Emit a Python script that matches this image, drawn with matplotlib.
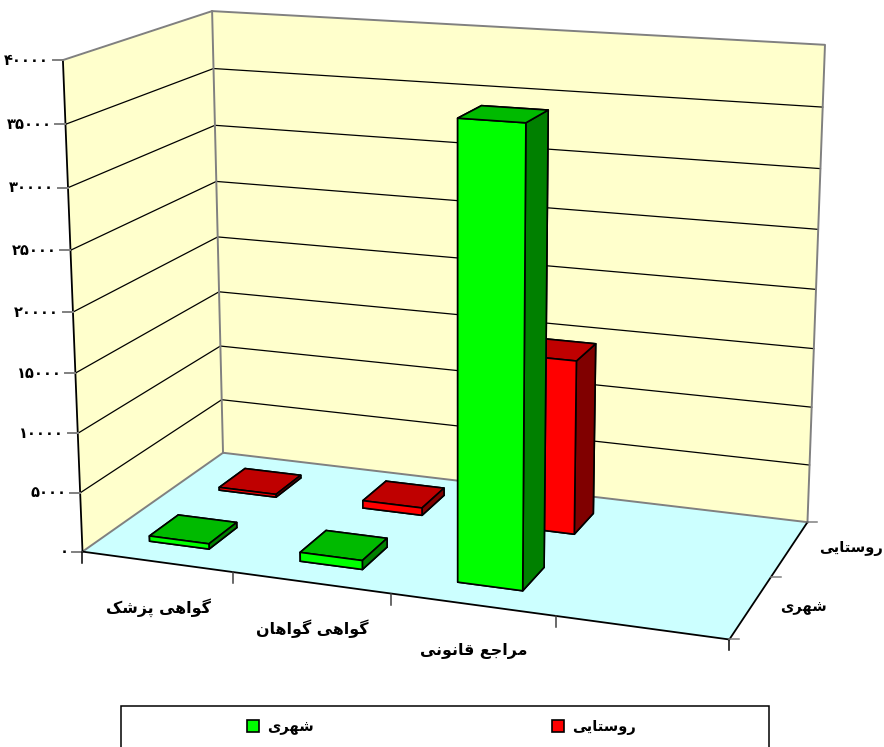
import numpy as np
import matplotlib
matplotlib.use('Agg')
import matplotlib.pyplot as plt
from matplotlib.patches import Patch, Rectangle
from mpl_toolkits.mplot3d.art3d import Poly3DCollection

# data
categories = ['گواهی پزشک', 'گواهی گواهان', 'مراجع قانونی', '']
series_names = ['شهری', 'روستایی']
urban = [450, 750, 36750]
rural = [250, 650, 14800]
z_ticks = [0, 5000, 10000, 15000, 20000, 25000, 30000, 35000, 40000]

W, H = 884, 747
ZMAX = 40000
n_x = len(categories)
n_y = len(series_names)

# matplotlib does no arabic shaping, so pick the joined glyphs here
FORMS = {
    'ش': 'ﺵﺶﺷﺸ', 'ه': 'ﻩﻪﻫﻬ', 'ی': 'ﯼﯽﯾﯿ', 'س': 'ﺱﺲﺳﺴ', 'ت': 'ﺕﺖﺗﺘ',
    'گ': 'ﮒﮓﮔﮕ', 'پ': 'ﭖﭗﭘﭙ', 'ک': 'ﮎﮏﮐﮑ', 'ن': 'ﻥﻦﻧﻨ', 'م': 'ﻡﻢﻣﻤ',
    'ج': 'ﺝﺞﺟﺠ', 'ع': 'ﻉﻊﻋﻌ', 'ق': 'ﻕﻖﻗﻘ',
    'ر': 'ﺭﺮ', 'و': 'ﻭﻮ', 'ا': 'ﺍﺎ', 'ز': 'ﺯﺰ',
}

def shape(s):
    out = []
    for i, c in enumerate(s):
        if c not in FORMS:
            out.append(c)
            continue
        forms = FORMS[c]
        before = i > 0 and s[i - 1] in FORMS and len(FORMS[s[i - 1]]) == 4
        after = i < len(s) - 1 and s[i + 1] in FORMS and len(forms) == 4
        out.append(forms[int(before) + 2 * int(after)])
    return ''.join(reversed(out))

def fa_digits(v):
    return str(v).translate(str.maketrans('0123456789', '۰۱۲۳۴۵۶۷۸۹'))

# camera matrix fitted from the corners of the plot box (pixel positions)
box_points = [
    (0, 0, 0, 83, 550), (0, n_y, 0, 223, 453), (n_x, n_y, 0, 807, 522),
    (n_x, 0, 0, 729, 638), (0, 0, ZMAX, 63, 60), (0, n_y, ZMAX, 212, 11),
    (n_x, n_y, ZMAX, 825, 45), (1, 0, 0, 233, 572), (2, 0, 0, 391, 597),
    (3, 0, 0, 556, 616), (n_x, 1, 0, 772, 577),
]
A, b = [], []
for x, y, z, px, py in box_points:
    py = H - py
    z = z / ZMAX
    A.append([x, y, z, 1, 0, 0, 0, 0, -px * x, -px * y, -px * z])
    b.append(px)
    A.append([0, 0, 0, 0, x, y, z, 1, -py * x, -py * y, -py * z])
    b.append(py)
p = np.linalg.lstsq(np.array(A, float), np.array(b, float), rcond=None)[0]
P = np.array([p[:4], p[4:8], [p[8], p[9], p[10], 1.0]])
P[:, 2] /= ZMAX
M = np.vstack([P[0], P[1], P[2] - [0, 0, 0, 0.5], P[2]])

def to_px(x, y, z):
    u = P @ [x, y, z, 1]
    return u[0] / u[2], H - u[1] / u[2]

fig = plt.figure(figsize=(W / 100, H / 100), dpi=100)
pad = (W - H) / 2
ax = fig.add_axes([0, -pad / H, 1, W / H], projection='3d', proj_type='ortho', computed_zorder=False)
ax.get_proj = lambda: M
ax.set_axis_off()
ax.patch.set_visible(False)

WALL = '#FFFFCC'
FLOOR = '#CCFFFF'
GREY = '#808080'

walls = [
    [(0, 0, 0), (0, n_y, 0), (0, n_y, ZMAX), (0, 0, ZMAX)],
    [(0, n_y, 0), (n_x, n_y, 0), (n_x, n_y, ZMAX), (0, n_y, ZMAX)],
]
floor = [[(0, 0, 0), (n_x, 0, 0), (n_x, n_y, 0), (0, n_y, 0)]]
ax.add_collection3d(Poly3DCollection(walls, facecolors=WALL, edgecolors='none', zorder=1))
ax.add_collection3d(Poly3DCollection(floor, facecolors=FLOOR, edgecolors='none', zorder=1))

for v in z_ticks[1:-1]:
    ax.plot([0, 0, n_x], [0, n_y, n_y], [v, v, v], color='black', lw=0.9, zorder=2)

# box edges
ax.plot([0, 0, n_x, n_x], [0, n_y, n_y, n_y], [ZMAX, ZMAX, ZMAX, 0], color=GREY, lw=1.4, zorder=3)
ax.plot([0, 0], [n_y, n_y], [0, ZMAX], color=GREY, lw=1.4, zorder=3)
ax.plot([0, 0, n_x], [0, n_y, n_y], [0, 0, 0], color=GREY, lw=1.4, zorder=3)
ax.plot([0, 0], [0, 0], [0, ZMAX], color='black', lw=1.3, zorder=3)
ax.plot([0, n_x, n_x], [0, 0, n_y], [0, 0, 0], color='black', lw=1.3, zorder=3)

# bars, back row first
bar_w = 0.4
face_colors = [
    ['#800000', '#BF0000', '#FF0000', '#800000', '#800000', '#800000'],
    ['#008000', '#00BA00', '#00FF00', '#008000', '#008000', '#008000'],
]
for row, vals in sorted(enumerate([urban, rural]), reverse=True):
    cols = face_colors[0] if row == 1 else face_colors[1]
    for i, v in enumerate(vals):
        ax.bar3d(i + 0.3, row + 0.3, 0, bar_w, bar_w, v, color=cols, shade=False,
                 edgecolor='black', linewidth=1.2, zorder=5 + (1 - row))

ax.viewLim.intervalx = (0, W)
ax.viewLim.intervaly = (-pad, H + pad)

# ticks and labels go on a flat overlay in pixel units
ov = fig.add_axes([0, 0, 1, 1], zorder=10)
ov.set_xlim(0, W)
ov.set_ylim(H, 0)
ov.axis('off')

font = dict(family=['DejaVu Sans'], weight='bold', color='black')

for v in z_ticks:
    tx, ty = to_px(0, 0, v)
    ov.plot([tx - 10, tx], [ty, ty], color=GREY, lw=1.4)
    ov.annotate(fa_digits(v), xy=(tx, ty), xytext=(-14, 0), textcoords='offset pixels',
                ha='right', va='center', fontsize=10.5, **font)

for i in range(n_x + 1):
    tx, ty = to_px(i, 0, 0)
    ov.plot([tx, tx], [ty, ty + 11], color='black' if i in (0, n_x) else '#404040', lw=1.1)
for j in range(n_y + 1):
    tx, ty = to_px(n_x, j, 0)
    ov.plot([tx, tx + 10], [ty, ty], color=GREY, lw=1.1)

for i, name in enumerate(categories):
    if name:
        tx, ty = to_px(i + 0.5, 0, 0)
        ov.text(tx + 1, ty + 46, shape(name), ha='center', va='center', fontsize=11.4, **font)
for j, name in enumerate(series_names):
    tx, ty = to_px(n_x, j + 0.5, 0)
    ov.text(tx + 29, ty, shape(name), ha='left', va='center', fontsize=10.5, **font)

# legend frame runs off the bottom of the picture
ov.add_patch(Rectangle((121, 706), 648, 60, fc='white', ec='black', lw=1.1))
handles = [Patch(fc='#00FF00', ec='black', lw=1.2), Patch(fc='#FF0000', ec='black', lw=1.2)]
ov.legend(handles, [shape(n) for n in series_names], ncols=2, frameon=False,
          loc='center left', bbox_to_anchor=(247, 727), bbox_transform=ov.transData,
          borderaxespad=0, borderpad=0, handlelength=0.8, handleheight=0.95,
          handletextpad=0.6, columnspacing=16.3,
          prop=dict(family='DejaVu Sans', weight='bold', size=10.5))

fig.savefig('out.png', dpi=100)
